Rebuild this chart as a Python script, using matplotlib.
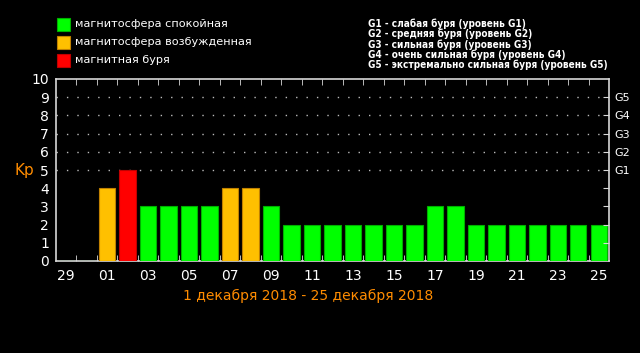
import numpy as np
import matplotlib.pyplot as plt
from matplotlib.ticker import FixedLocator

# Kp index, 29 Nov - 25 Dec 2018
days = ["29", "30"] + [f"{d:02d}" for d in range(1, 26)]
kp = [0, 0, 4, 5, 3, 3, 3, 3, 4, 4, 3, 2, 2, 2, 2, 2, 2, 2, 3, 3,
      2, 2, 2, 2, 2, 2, 2]
state = ["q", "q", "a", "s", "q", "q", "q", "q", "a", "a", "q", "q", "q", "q",
         "q", "q", "q", "q", "q", "q", "q", "q", "q", "q", "q", "q", "q"]

legend_left = ["магнитосфера спокойная", "магнитосфера возбужденная", "магнитная буря"]
legend_right = [
    "G1 - слабая буря (уровень G1)",
    "G2 - средняя буря (уровень G2)",
    "G3 - сильная буря (уровень G3)",
    "G4 - очень сильная буря (уровень G4)",
    "G5 - экстремально сильная буря (уровень G5)",
]
g_levels = ["G1", "G2", "G3", "G4", "G5"]
period = "1 декабря 2018 - 25 декабря 2018"

fill = {"q": "#00ff00", "a": "#ffc000", "s": "#ff0000"}
edge = {"q": "#00b000", "a": "#c08000", "s": "#c00000"}
orange = "#ff8c00"
axcol = "#d8d8d8"

fig = plt.figure(figsize=(6.4, 3.53), dpi=100, facecolor="black")
W, H = 640, 353
ax = fig.add_axes([56 / W, 1 - 261 / H, (609 - 56) / W, (261 - 79) / H])
ax.set_facecolor("black")

x = np.arange(len(days))
ax.bar(x, kp, width=0.8, color=[fill[s] for s in state],
       edgecolor=[edge[s] for s in state], linewidth=0.8, zorder=3)

ax.set_xlim(-0.5, len(days) - 0.5)
ax.set_ylim(0, 10)

for sp in ax.spines.values():
    sp.set_color(axcol)
    sp.set_linewidth(1.2)

# x: labels every other day, ticks on day boundaries
ax.set_xticks(x[::2])
ax.set_xticklabels(days[::2])
ax.xaxis.set_minor_locator(FixedLocator(np.arange(0.5, len(days) - 0.5, 1)))
ax.tick_params(axis="x", which="major", length=0, pad=6, colors="white", labelsize=10)
ax.tick_params(axis="x", which="minor", direction="in", length=4, color=axcol,
               top=True, bottom=True)

# y: 0..10 on left, G levels on right
ax.set_yticks(range(0, 11))
ax.tick_params(axis="y", which="major", length=0, pad=5, colors="white", labelsize=10)

for lvl in range(5, 10):
    ax.axhline(lvl, color="#bbbbbb", linewidth=1, linestyle=(0, (1, 6.5)), zorder=1)

ax2 = ax.twinx()
ax2.set_ylim(0, 10)
ax2.set_yticks(range(1, 10))
ax2.set_yticklabels(["", "", "", ""] + g_levels)
ax2.tick_params(axis="y", direction="in", length=4, color=axcol, colors="white",
                labelsize=8, pad=4)
ax2.tick_params(axis="y", which="major", color=axcol)
for sp in ax2.spines.values():
    sp.set_visible(False)

fig.text(24 / W, 1 - 170 / H, "Kp", color=orange, fontsize=11, ha="center", va="center")
fig.text(308 / W, 1 - 296 / H, period, color=orange, fontsize=10, ha="center", va="center")

# legends
for i, (lab, s) in enumerate(zip(legend_left, ["q", "a", "s"])):
    yc = 24 + i * 18
    fig.patches.append(plt.Rectangle((57 / W, 1 - (yc + 6.5) / H), 13 / W, 13 / H,
                                     transform=fig.transFigure, facecolor=fill[s],
                                     edgecolor=edge[s], linewidth=0.8))
    fig.text(75 / W, 1 - yc / H, lab, color="white", fontsize=8.1, va="center",
             fontweight="medium")

for i, lab in enumerate(legend_right):
    yc = 24 + i * 10.2
    fig.text(368 / W, 1 - yc / H, lab, color="white", fontsize=7.2, va="center",
             fontweight="bold", fontstretch="condensed")

fig.savefig("out.png", dpi=100, facecolor="black")
